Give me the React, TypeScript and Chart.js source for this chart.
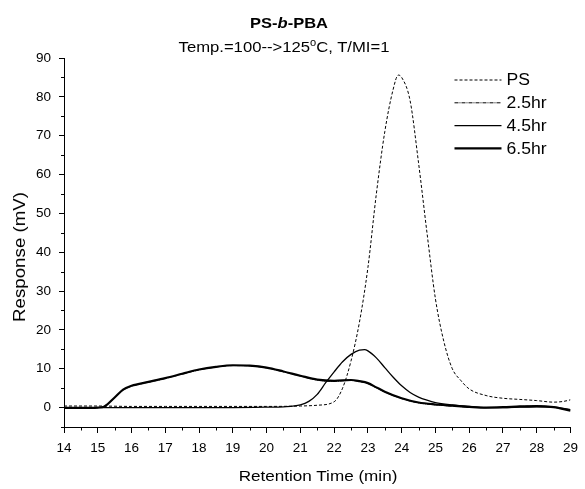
import React, { useEffect, useRef } from 'react';
import { Chart, registerables } from 'chart.js';

Chart.register(...registerables);

// ---- data ----
const seriesNames = ['PS', '2.5hr', '4.5hr', '6.5hr'];

const xMin = 14;
const xMax = 29;
const yMin = -5;
const yMax = 90;
const yTickValues = [0, 10, 20, 30, 40, 50, 60, 70, 80, 90];

const psX = [14, 15, 16, 17, 18, 19, 20, 21, 21.5, 22, 22.25, 22.5, 22.75, 23, 23.25, 23.5, 23.75, 23.9, 24, 24.25, 24.5, 24.75, 25, 25.25, 25.5, 25.75, 26, 26.5, 27, 27.5, 28, 28.5, 28.8, 29];
const psY = [0.4, 0.4, 0.3, 0.3, 0.3, 0.3, 0.3, 0.4, 0.6, 1.5, 5, 12, 22, 36, 55, 71, 82, 85.6, 85, 79, 63, 45, 28, 17, 10, 7, 4.8, 3.1, 2.4, 2.1, 1.8, 1.4, 1.6, 2.0];

const hr25X = [14, 14.5, 15, 15.2, 15.5, 15.75, 16, 16.5, 17, 17.5, 18, 18.5, 19, 19.5, 20, 20.5, 21, 21.5, 22, 22.5, 22.75, 23, 23.25, 23.5, 24, 24.5, 25, 25.5, 26, 26.5, 27, 27.5, 28, 28.5, 29];
const hr25Y = [-0.1, -0.1, 0, 0.3, 2.5, 4.5, 5.5, 6.5, 7.5, 8.6, 9.7, 10.4, 10.8, 10.7, 10.2, 9.2, 8.1, 7.1, 6.8, 7.0, 6.7, 6.2, 5.1, 4.0, 2.3, 1.2, 0.7, 0.4, 0.1, 0, 0.1, 0.3, 0.4, 0.1, -0.8];

const hr45X = [14, 15, 16, 17, 18, 19, 20, 20.5, 21, 21.25, 21.5, 21.75, 22, 22.25, 22.5, 22.75, 22.9, 23, 23.25, 23.5, 23.75, 24, 24.25, 24.5, 24.75, 25, 25.5, 26, 26.5, 27, 27.5, 28, 28.5, 29];
const hr45Y = [0, 0, 0, 0, 0, 0, 0.1, 0.2, 0.7, 1.6, 3.4, 6.4, 9.2, 11.8, 13.7, 14.8, 14.9, 14.6, 12.8, 10.3, 7.8, 5.6, 3.9, 2.7, 1.9, 1.3, 0.7, 0.3, 0.0, 0.0, 0.1, 0.2, 0.1, -0.5];

const hr65X = [14, 14.5, 15, 15.2, 15.5, 15.75, 16, 16.5, 17, 17.5, 18, 18.5, 19, 19.5, 20, 20.5, 21, 21.5, 22, 22.5, 22.75, 23, 23.25, 23.5, 24, 24.5, 25, 25.5, 26, 26.5, 27, 27.5, 28, 28.5, 29];
const hr65Y = [-0.1, -0.1, 0, 0.3, 2.6, 4.6, 5.6, 6.6, 7.6, 8.7, 9.8, 10.5, 10.9, 10.8, 10.3, 9.3, 8.2, 7.2, 6.9, 7.1, 6.8, 6.3, 5.2, 4.1, 2.4, 1.3, 0.8, 0.5, 0.2, 0, 0.1, 0.3, 0.4, 0.1, -0.8];

const FONT = '"Liberation Sans", Arial, Helvetica, sans-serif';

const toPoints = (xs: number[], ys: number[]) => xs.map((x, i) => ({ x, y: ys[i] }));

const minorTicksPlugin = {
  id: 'minorTicks',
  afterDraw(chart: any) {
    const { ctx, chartArea, scales } = chart;
    ctx.save();
    ctx.strokeStyle = '#000';
    ctx.lineWidth = 1;
    ctx.beginPath();
    for (let v = yMin; v < yMax; v += 10) {
      const py = Math.round(scales.y.getPixelForValue(v)) + 0.5;
      ctx.moveTo(chartArea.left - 3, py);
      ctx.lineTo(chartArea.left, py);
    }
    for (let v = xMin + 0.5; v < xMax; v += 1) {
      const px = Math.round(scales.x.getPixelForValue(v)) + 0.5;
      ctx.moveTo(px, chartArea.bottom);
      ctx.lineTo(px, chartArea.bottom + 3.5);
    }
    ctx.stroke();
    ctx.restore();
  },
};

const legendPlugin = {
  id: 'insideLegend',
  afterDraw(chart: any) {
    const { ctx, chartArea } = chart;
    const x0 = chartArea.right - 116;
    const x1 = chartArea.right - 69;
    const tx = chartArea.right - 64;
    ctx.save();
    chart.data.datasets.forEach((ds: any, i: number) => {
      const y = chartArea.top + 22 + i * 22.8;
      ctx.beginPath();
      ctx.strokeStyle = '#000';
      ctx.lineWidth = ds.borderWidth;
      ctx.setLineDash(ds.borderDash || []);
      ctx.moveTo(x0, y);
      ctx.lineTo(x1, y);
      ctx.stroke();
      ctx.setLineDash([]);
      ctx.save();
      ctx.translate(tx, y);
      ctx.scale(1.1, 1);
      ctx.fillStyle = '#000';
      ctx.font = `16px ${FONT}`;
      ctx.textBaseline = 'middle';
      ctx.textAlign = 'left';
      ctx.fillText(ds.label, 0, 1);
      ctx.restore();
    });
    ctx.restore();
  },
};

export default function App() {
  const canvasRef = useRef<HTMLCanvasElement | null>(null);

  useEffect(() => {
    if (!canvasRef.current) return;
    const tickFont = { family: FONT, size: 13.5 };
    const chart = new Chart(canvasRef.current, {
      type: 'line',
      data: {
        datasets: [
          {
            label: seriesNames[0],
            data: toPoints(psX, psY),
            borderColor: '#000',
            borderWidth: 1,
            borderDash: [3, 2],
            pointRadius: 0,
            tension: 0.4,
            cubicInterpolationMode: 'monotone',
            order: 1,
          },
          {
            label: seriesNames[1],
            data: toPoints(hr25X, hr25Y),
            borderColor: '#000',
            borderWidth: 1,
            borderDash: [4, 1, 1, 1],
            pointRadius: 0,
            tension: 0.4,
            cubicInterpolationMode: 'monotone',
            order: 4,
          },
          {
            label: seriesNames[2],
            data: toPoints(hr45X, hr45Y),
            borderColor: '#000',
            borderWidth: 1.3,
            pointRadius: 0,
            tension: 0.4,
            cubicInterpolationMode: 'monotone',
            order: 2,
          },
          {
            label: seriesNames[3],
            data: toPoints(hr65X, hr65Y),
            borderColor: '#000',
            borderWidth: 2.2,
            pointRadius: 0,
            tension: 0.4,
            cubicInterpolationMode: 'monotone',
            order: 3,
          },
        ],
      },
      options: {
        responsive: false,
        maintainAspectRatio: false,
        animation: false,
        layout: { padding: { top: 58, right: 14, left: 0, bottom: 0 } },
        plugins: {
          legend: { display: false },
          title: { display: false },
          tooltip: { enabled: false },
        },
        scales: {
          x: {
            type: 'linear',
            min: xMin,
            max: xMax,
            ticks: { stepSize: 1, font: tickFont, color: '#000', padding: 7, maxRotation: 0, autoSkip: false },
            grid: { drawOnChartArea: false, drawTicks: true, tickLength: 6, color: '#000', tickColor: '#000' },
            border: { display: true, color: '#000', width: 1 },
            afterFit: (s: any) => { s.height = 62; },
          },
          y: {
            type: 'linear',
            min: yMin,
            max: yMax,
            afterBuildTicks: (s: any) => { s.ticks = yTickValues.map((v) => ({ value: v })); },
            ticks: { font: tickFont, color: '#000', padding: 8 },
            grid: { drawOnChartArea: false, drawTicks: true, tickLength: 5, color: '#000', tickColor: '#000' },
            border: { display: true, color: '#000', width: 1 },
            afterFit: (s: any) => { s.width = 64; },
          },
        },
      } as any,
      plugins: [minorTicksPlugin, legendPlugin],
    });
    return () => chart.destroy();
  }, []);

  const textBase: React.CSSProperties = {
    position: 'absolute',
    whiteSpace: 'nowrap',
    fontFamily: FONT,
    fontSize: '15px',
    lineHeight: '18px',
    color: '#000',
  };

  return (
    <div style={{ position: 'absolute', left: 0, top: 0, width: 585, height: 489, background: '#fff' }}>
      <canvas ref={canvasRef} width={585} height={489} style={{ display: 'block', width: 585, height: 489 }} />
      <div style={{ ...textBase, left: 289, top: 14, fontWeight: 'bold', transform: 'translateX(-50%) scaleX(1.1)' }}>
        PS-<i>b</i>-PBA
      </div>
      <div style={{ ...textBase, left: 284, top: 38, transform: 'translateX(-50%) scaleX(1.11)' }}>
        Temp.=100--&gt;125<span style={{ fontSize: '10px', position: 'relative', top: '-6px' }}>o</span>C, T/MI=1
      </div>
      <div style={{ ...textBase, left: 318, top: 467, transform: 'translateX(-50%) scaleX(1.14)' }}>
        Retention Time (min)
      </div>
      <div style={{ ...textBase, fontSize: '16px', left: 19.5, top: 257, transform: 'translate(-50%, -50%) rotate(-90deg) scaleX(1.17)' }}>
        Response (mV)
      </div>
    </div>
  );
}
